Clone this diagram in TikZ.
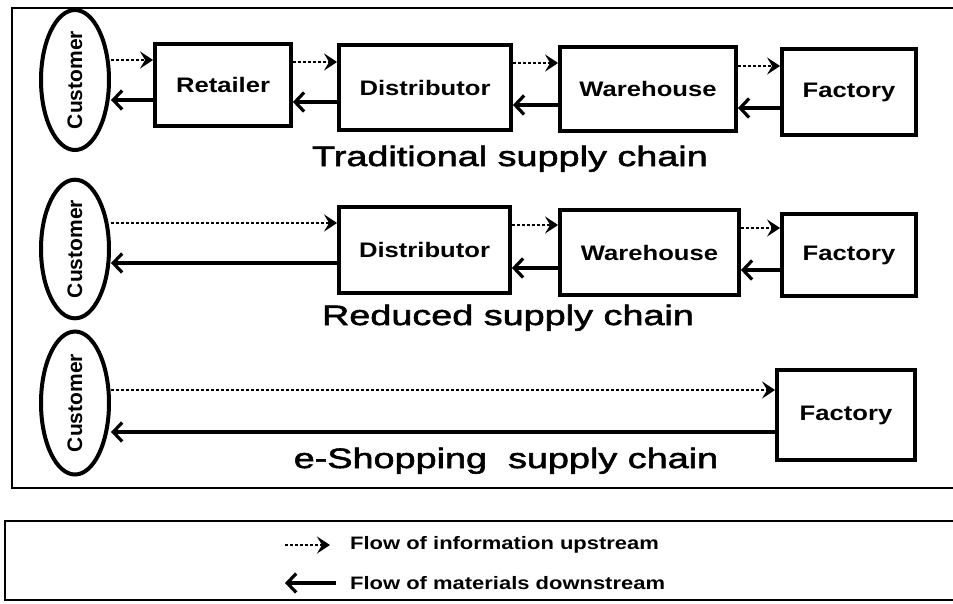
\documentclass[tikz,border=0pt]{standalone}
\usepackage{fontspec}
\usepackage{graphicx}
\setmainfont{Liberation Sans}
\newfontfamily\boxfont[FakeStretch=1.22]{Liberation Sans}
\newfontfamily\titlefont[FakeStretch=1.35,FakeBold=2]{Liberation Sans}
\usetikzlibrary{arrows.meta,shapes.geometric}
\begin{document}
\begin{tikzpicture}[x=1pt,y=-1pt,
  stagebox/.style={draw, line width=3.8pt, rectangle, inner sep=0pt, font=\boxfont\bfseries\fontsize{21}{24}\selectfont},
  custnode/.style={draw, line width=4pt, ellipse, inner sep=0pt, minimum width=68pt, font=\bfseries\fontsize{21}{24}\selectfont},
  info/.style={line width=2.5pt, dash pattern=on 3pt off 2pt, -{Stealth[length=13pt,width=17pt,inset=5pt]}},
  mat/.style={line width=3.2pt, -{Straight Barb[length=9pt,width=19pt]}},
  chaintitle/.style={anchor=base, inner sep=0pt, font=\titlefont\fontsize{28}{32}\selectfont},
  legtext/.style={anchor=west, inner sep=0pt, font=\boxfont\bfseries\fontsize{18}{21}\selectfont},
  frame/.style={line width=2pt}
]
\useasboundingbox (0,0) rectangle (953,603);
\fill[white] (0,0) rectangle (953,603);

% frames
\draw[frame] (953,8) -- (12,8) -- (12,488) -- (953,488);
\draw[frame] (953,521) -- (5,521) -- (5,600) -- (953,600);

% Traditional supply chain
\node[custnode, minimum height=140pt] (c1) at (75,80) {\rotatebox{90}{Customer}};
\node[stagebox, minimum width=136pt, minimum height=82pt] (r1) at (223,85) {Retailer};
\node[stagebox, minimum width=172pt, minimum height=85pt] (d1) at (425,87.5) {Distributor};
\node[stagebox, minimum width=176pt, minimum height=84pt] (w1) at (648,89) {Warehouse};
\node[stagebox, minimum width=134pt, minimum height=86pt] (f1) at (849,92) {Factory};
\draw[info] (c1.east |- 0,60) -- (r1.west |- 0,60);
\draw[mat] (r1.west |- 0,100) -- (c1.east |- 0,100);
\draw[info] (r1.east |- 0,62) -- (d1.west |- 0,62);
\draw[mat] (d1.west |- 0,102) -- (r1.east |- 0,102);
\draw[info] (d1.east |- 0,63) -- (w1.west |- 0,63);
\draw[mat] (w1.west |- 0,105) -- (d1.east |- 0,105);
\draw[info] (w1.east |- 0,66) -- (f1.west |- 0,66);
\draw[mat] (f1.west |- 0,108) -- (w1.east |- 0,108);
\node[chaintitle] (t1) at (510,166) {Traditional supply chain};

% Reduced supply chain
\node[custnode, minimum height=128pt] (c2) at (75,249) {\rotatebox{90}{Customer}};
\node[stagebox, minimum width=171pt, minimum height=86pt] (d2) at (424.5,250) {Distributor};
\node[stagebox, minimum width=179pt, minimum height=85pt] (w2) at (649.5,252.5) {Warehouse};
\node[stagebox, minimum width=134pt, minimum height=82pt] (f2) at (849,255) {Factory};
\draw[info] (c2.east |- 0,223) -- (d2.west |- 0,223);
\draw[mat] (d2.west |- 0,263) -- (c2.east |- 0,263);
\draw[info] (d2.east |- 0,225) -- (w2.west |- 0,225);
\draw[mat] (w2.west |- 0,268) -- (d2.east |- 0,268);
\draw[info] (w2.east |- 0,228) -- (f2.west |- 0,228);
\draw[mat] (f2.west |- 0,270) -- (w2.east |- 0,270);
\node[chaintitle] (t2) at (508,325) {Reduced supply chain};

% e-Shopping supply chain
\node[custnode, minimum height=143pt] (c3) at (75,403) {\rotatebox{90}{Customer}};
\node[stagebox, minimum width=138pt, minimum height=90pt] (f3) at (846,415) {Factory};
\draw[info] (c3.east |- 0,390) -- (f3.west |- 0,390);
\draw[mat] (f3.west |- 0,432) -- (c3.east |- 0,432);
\node[chaintitle] (t3) at (506,468) {e-Shopping\ \ supply chain};

% legend
\node[legtext] (li) at (350,545) {Flow of information upstream};
\node[legtext] (lm) at (350,583) {Flow of materials downstream};
\coordinate (lia) at (285,545);
\coordinate (lma) at (285,583);
\draw[info, shorten >=20pt] (lia) -- (li.west);
\draw[mat, shorten <=14pt] (lm.west) -- (lma);
\end{tikzpicture}
\end{document}
